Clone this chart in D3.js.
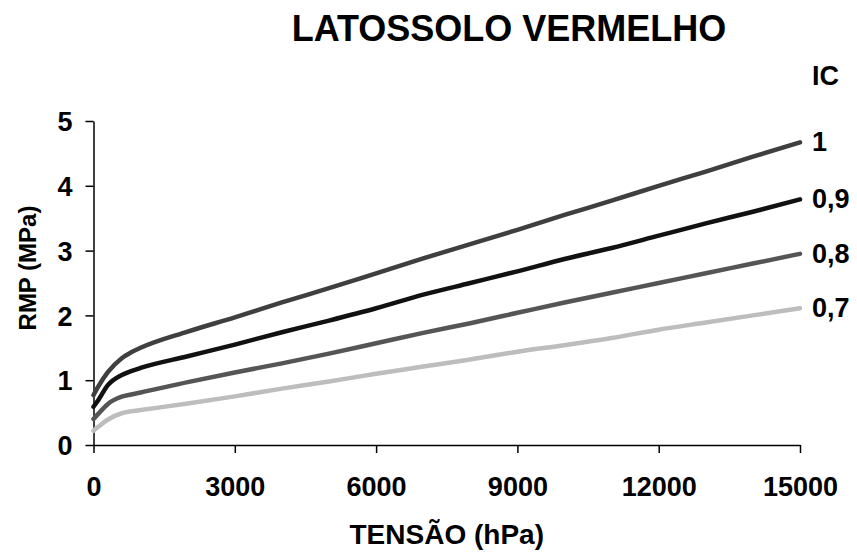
<!DOCTYPE html>
<html>
<head>
<meta charset="utf-8">
<script src="https://cdn.jsdelivr.net/npm/d3@7"></script>
<style>
  body { margin: 0; background: #fff; }
  svg { display: block; font-family: "Liberation Sans", Arial, sans-serif; font-weight: bold; }
</style>
</head>
<body>
<svg id="chart" width="857" height="554"></svg>
<script>
// tension (hPa) at which the curves were read
const tension = [0, 100, 300, 600, 800, 1000, 2000, 3000, 4000, 5000, 6000, 7000, 8000,
                 9000, 10000, 11000, 12000, 13000, 14000, 15000];
// RMP (MPa) for each compaction degree (IC)
const ic100 = [0.77, 0.90, 1.12, 1.34, 1.43, 1.50, 1.75, 1.97, 2.20, 2.42, 2.65, 2.88, 3.10,
               3.32, 3.55, 3.77, 4.00, 4.22, 4.45, 4.67];
const ic090 = [0.59, 0.69, 0.92, 1.08, 1.14, 1.19, 1.37, 1.55, 1.74, 1.92, 2.11, 2.32, 2.50,
               2.68, 2.87, 3.04, 3.23, 3.42, 3.60, 3.79];
const ic080 = [0.40, 0.48, 0.63, 0.745, 0.78, 0.81, 0.97, 1.12, 1.26, 1.41, 1.57, 1.73, 1.88,
               2.04, 2.20, 2.35, 2.50, 2.65, 2.80, 2.95];
const ic070 = [0.22, 0.28, 0.39, 0.49, 0.52, 0.54, 0.64, 0.75, 0.87, 0.98, 1.10, 1.21, 1.32,
               1.44, 1.54, 1.65, 1.78, 1.89, 2.00, 2.11];
const seriesLabels = ["1", "0,9", "0,8", "0,7"];
const xTicks = [0, 3000, 6000, 9000, 12000, 15000];
const yTicks = [0, 1, 2, 3, 4, 5];

const series = [
  { label: seriesLabels[0], values: ic100, color: "#3f3f3f" },
  { label: seriesLabels[1], values: ic090, color: "#111111" },
  { label: seriesLabels[2], values: ic080, color: "#555555" },
  { label: seriesLabels[3], values: ic070, color: "#bdbdbd" }
];

const svg = d3.select("#chart");
const plotLeft = 93.5, plotRight = 800, plotTop = 121, plotBottom = 445;

const x = d3.scaleLinear().domain([0, 15000]).range([plotLeft, plotRight]);
const y = d3.scaleLinear().domain([0, 5]).range([plotBottom, plotTop]);

// axes
const xAxis = svg.append("g")
    .attr("transform", `translate(0,${plotBottom})`)
    .call(d3.axisBottom(x).tickValues(xTicks).tickFormat(d3.format("d"))
      .tickSize(8).tickSizeOuter(0).tickPadding(24));
const yAxis = svg.append("g")
    .attr("transform", `translate(${plotLeft},0)`)
    .call(d3.axisLeft(y).tickValues(yTicks).tickFormat(d3.format("d"))
      .tickSize(8).tickSizeOuter(0).tickPadding(13));

[xAxis, yAxis].forEach(g => {
  g.select(".domain").attr("stroke", "#000").attr("stroke-width", 1.5);
  g.selectAll(".tick line").attr("stroke", "#000").attr("stroke-width", 1.5);
  g.selectAll(".tick text")
    .attr("fill", "#000")
    .style("font-family", "'Liberation Sans', Arial, sans-serif")
    .style("font-weight", "bold")
    .style("font-size", "27px");
});
yAxis.selectAll(".tick text").attr("dy", "0.36em");

// curves
const line = d3.line()
    .x((d, i) => x(tension[i]))
    .y(d => y(d))
    .curve(d3.curveMonotoneX);

svg.selectAll(".curve")
  .data(series)
  .enter().append("path")
    .attr("class", "curve")
    .attr("fill", "none")
    .attr("stroke", d => d.color)
    .attr("stroke-width", 4.5)
    .attr("stroke-linecap", "round")
    .attr("stroke-linejoin", "round")
    .attr("d", d => line(d.values));

// series labels at the right end
svg.selectAll(".slabel")
  .data(series)
  .enter().append("text")
    .attr("class", "slabel")
    .attr("x", 812)
    .attr("y", d => y(d.values[d.values.length - 1]) + 9)
    .style("font-size", "27px")
    .text(d => d.label);

svg.append("text")
    .attr("x", 812).attr("y", 85)
    .style("font-size", "27px")
    .text("IC");

// titles
svg.append("text")
    .attr("x", 509).attr("y", 41)
    .attr("text-anchor", "middle")
    .style("font-size", "36px")
    .text("LATOSSOLO VERMELHO");

svg.append("text")
    .attr("x", (plotLeft + plotRight) / 2).attr("y", 544)
    .attr("text-anchor", "middle")
    .style("font-size", "28px")
    .text("TENSÃO (hPa)");

svg.append("text")
    .attr("transform", "translate(36,268) rotate(-90)")
    .attr("text-anchor", "middle")
    .style("font-size", "24px")
    .text("RMP (MPa)");
</script>
</body>
</html>
